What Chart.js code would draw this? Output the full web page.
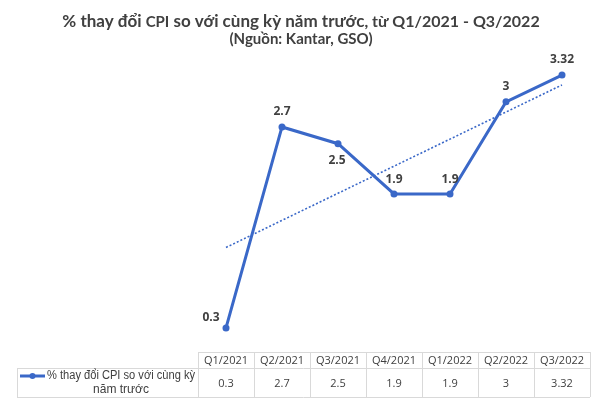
<!DOCTYPE html>
<html>
<head>
<meta charset="utf-8">
<script src="https://cdn.jsdelivr.net/npm/chart.js@4.4.0/dist/chart.umd.min.js"></script>
<style>
  html, body { margin: 0; padding: 0; background: #fff; }
  #wrap { position: relative; width: 600px; height: 401px; }
</style>
</head>
<body>
<div id="wrap"><canvas id="cpi" width="600" height="401"></canvas></div>
<script>
// data
const quarters = ['Q1/2021', 'Q2/2021', 'Q3/2021', 'Q4/2021', 'Q1/2022', 'Q2/2022', 'Q3/2022'];
const cpiChange = [0.3, 2.7, 2.5, 1.9, 1.9, 3, 3.32];
const cpiText = ['0.3', '2.7', '2.5', '1.9', '1.9', '3', '3.32'];
const seriesName = ['% thay đổi CPI so với cùng kỳ', 'năm trước'];

const blue = '#3a68c8';
const grey = '#404040';

// linear trendline like excel's
function trend(vals) {
  const n = vals.length;
  let sx = 0, sy = 0, sxy = 0, sxx = 0;
  vals.forEach((v, i) => { sx += i; sy += v; sxy += i * v; sxx += i * i; });
  const b = (n * sxy - sx * sy) / (n * sxx - sx * sx);
  const a = (sy - b * sx) / n;
  return vals.map((v, i) => a + b * i);
}

// label offsets (px) around each point
const labelDx = [-15, 0, -1, 0, 0, 0, 0];
const labelDy = [-10, -15, 17, -14, -14, -15, -15];

const titlePlugin = {
  id: 'titleText',
  afterDraw(chart) {
    const ctx = chart.ctx;
    const parts = [
      ['% thay đổi ', 'bold 17px Lato'],
      ['CPI', 'bold 15px Lato'],
      [' so với cùng kỳ năm trước', 'bold 17px Lato'],
      [', từ Q1/2021 - Q3/2022', 'bold 16px Lato']
    ];
    ctx.save();
    ctx.fillStyle = grey;
    ctx.textBaseline = 'alphabetic';
    ctx.textAlign = 'left';
    let total = 0;
    parts.forEach(p => { ctx.font = p[1]; total += ctx.measureText(p[0]).width; });
    let x = 301 - total / 2;
    parts.forEach(p => { ctx.font = p[1]; ctx.fillText(p[0], x, 27); x += ctx.measureText(p[0]).width; });
    ctx.font = 'bold 15px Lato';
    ctx.textAlign = 'center';
    ctx.fillText('(Nguồn: Kantar, GSO)', 301, 44);
    ctx.restore();
  }
};

const labelPlugin = {
  id: 'pointLabels',
  afterDatasetsDraw(chart) {
    const ctx = chart.ctx;
    const meta = chart.getDatasetMeta(0);
    ctx.save();
    ctx.font = 'bold 12px "Open Sans"';
    ctx.fillStyle = grey;
    ctx.textAlign = 'center';
    ctx.textBaseline = 'middle';
    meta.data.forEach((pt, i) => {
      ctx.fillText(cpiText[i], pt.x + labelDx[i], pt.y + labelDy[i]);
    });
    ctx.restore();
  }
};

// squeeze a line of text into a max width
function fitText(ctx, txt, cx, cy, maxW) {
  const w = ctx.measureText(txt).width;
  if (w <= maxW) { ctx.fillText(txt, cx, cy); return; }
  ctx.save();
  ctx.translate(cx, cy);
  ctx.scale(maxW / w, 1);
  ctx.fillText(txt, 0, 0);
  ctx.restore();
}

const tablePlugin = {
  id: 'dataTable',
  afterDraw(chart) {
    const ctx = chart.ctx;
    const xs = chart.scales.x;
    const left = chart.chartArea.left, right = chart.chartArea.right;
    const colW = (right - left) / quarters.length;
    const top = 352, mid = 368, bottom = 397, labelLeft = 17;
    ctx.save();
    ctx.strokeStyle = '#d9d9d9';
    ctx.lineWidth = 1;
    ctx.beginPath();
    ctx.moveTo(left, top + 0.5); ctx.lineTo(right, top + 0.5);
    ctx.moveTo(labelLeft, mid + 0.5); ctx.lineTo(right, mid + 0.5);
    ctx.moveTo(labelLeft, bottom + 0.5); ctx.lineTo(right, bottom + 0.5);
    ctx.moveTo(labelLeft + 0.5, mid); ctx.lineTo(labelLeft + 0.5, bottom);
    for (let i = 0; i <= quarters.length; i++) {
      const x = Math.round(left + i * colW) + 0.5;
      ctx.moveTo(x, top); ctx.lineTo(x, bottom);
    }
    ctx.stroke();

    ctx.fillStyle = grey;
    ctx.textAlign = 'center';
    ctx.textBaseline = 'middle';
    ctx.font = '11px "Open Sans"';
    quarters.forEach((q, i) => {
      const cx = xs.getPixelForValue(i);
      ctx.fillText(q, cx, (top + mid) / 2 + 1);
      ctx.fillText(cpiText[i], cx, (mid + bottom) / 2 + 1);
    });

    // legend key
    ctx.strokeStyle = blue;
    ctx.lineWidth = 3;
    ctx.beginPath();
    ctx.moveTo(20, 376); ctx.lineTo(45, 376);
    ctx.stroke();
    ctx.fillStyle = blue;
    ctx.beginPath();
    ctx.arc(32.5, 376, 3, 0, Math.PI * 2);
    ctx.fill();

    ctx.fillStyle = grey;
    ctx.font = '12px "Liberation Sans Narrow", "Liberation Sans"';
    fitText(ctx, seriesName[0], 121, 376, 148);
    fitText(ctx, seriesName[1], 121, 390, 148);
    ctx.restore();
  }
};

new Chart(document.getElementById('cpi'), {
  type: 'line',
  data: {
    labels: quarters,
    datasets: [
      {
        label: seriesName.join(' '),
        data: cpiChange,
        borderColor: blue,
        backgroundColor: blue,
        borderWidth: 3,
        pointRadius: 3.5,
        pointBorderWidth: 0,
        tension: 0,
        clip: false
      },
      {
        label: 'trend',
        data: trend(cpiChange),
        borderColor: blue,
        borderWidth: 1.6,
        borderDash: [2, 2],
        pointRadius: 0,
        tension: 0
      }
    ]
  },
  options: {
    responsive: false,
    animation: false,
    devicePixelRatio: 1,
    layout: { padding: { left: 198, right: 10, top: 60, bottom: 48 } },
    scales: {
      x: { display: false, offset: true },
      y: { display: false, min: 0, max: 3.5 }
    },
    plugins: {
      legend: { display: false },
      title: { display: false },
      tooltip: { enabled: false }
    }
  },
  plugins: [titlePlugin, labelPlugin, tablePlugin]
});
</script>
</body>
</html>
